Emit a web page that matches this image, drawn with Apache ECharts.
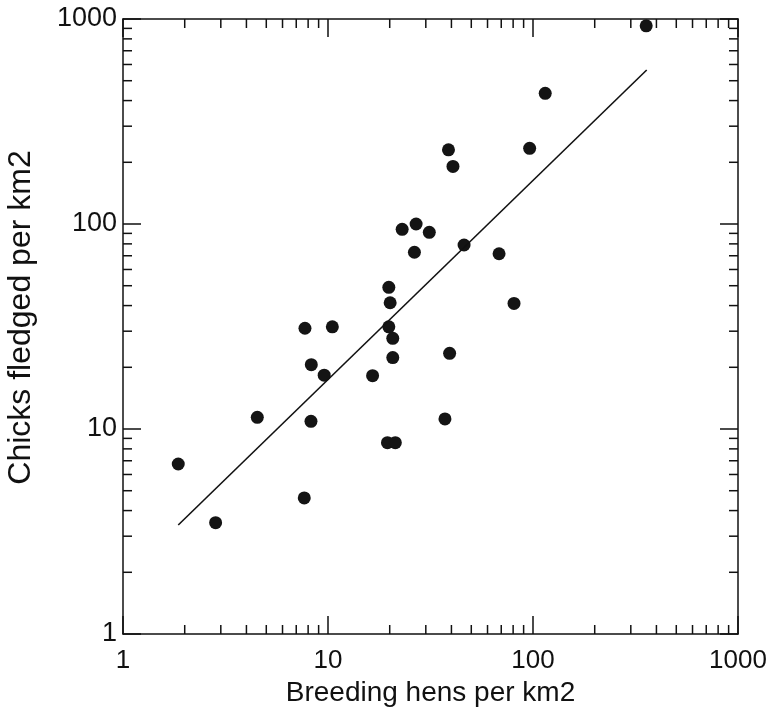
<!DOCTYPE html>
<html>
<head>
<meta charset="utf-8">
<script src="https://cdn.jsdelivr.net/npm/echarts@6/dist/echarts.min.js"></script>
<style>
  html, body { margin: 0; padding: 0; background: #fff; }
  #chart { width: 776px; height: 714px; }
</style>
</head>
<body>
<div id="chart"></div>
<script>
// Breeding hens per km2 (x) and chicks fledged per km2 (y)
const hens = [1.86, 2.83, 4.52, 7.66, 7.72, 8.26, 8.29, 9.58, 10.5, 16.5,
              19.5, 21.3, 19.8, 20.7, 20.7, 19.8, 20.1, 23.0, 26.9, 31.2,
              26.4, 37.2, 39.2, 38.7, 40.7, 46.1, 68.3, 80.8, 96.3, 114.7, 356.6];
const chicks = [6.75, 3.49, 11.4, 4.61, 31.0, 10.9, 20.6, 18.3, 31.5, 18.2,
                8.58, 8.58, 31.5, 27.7, 22.3, 49.1, 41.3, 94.2, 100, 91.1,
                72.8, 11.2, 23.4, 230, 191, 79.0, 71.6, 41.0, 234, 434, 926];
// fitted regression line end points
const fitX = [1.86, 358.6];
const fitY = [3.40, 564];
// axis tick labels and minor tick values
const majorTicks = [1, 10, 100, 1000];
const minorTicks = [2, 3, 4, 5, 6, 7, 8, 9, 20, 30, 40, 50, 60, 70, 80, 90,
                    200, 300, 400, 500, 600, 700, 800, 900];

const FONT = 'Liberation Sans, Arial, sans-serif';
const INK = '#111';

const chart = echarts.init(document.getElementById('chart'), null, { renderer: 'canvas' });

const baseAxis = {
  type: 'log', logBase: 10, min: majorTicks[0], max: majorTicks[majorTicks.length - 1],
  splitLine: { show: false },
  axisLine: { show: true, onZero: false, lineStyle: { color: INK, width: 1.5 } },
  axisTick: { show: true, inside: true, length: 18, lineStyle: { color: INK, width: 1.5 } },
  minorTick: { show: false }
};

chart.setOption({
  backgroundColor: '#fff',
  animation: false,
  grid: { left: 123, top: 19, width: 615, height: 615, containLabel: false, outerBoundsMode: 'none' },
  xAxis: [
    Object.assign({}, baseAxis, {
      position: 'bottom',
      name: 'Breeding hens per km2', nameLocation: 'middle', nameGap: 44,
      nameTextStyle: { fontFamily: FONT, fontSize: 28, color: INK },
      axisLabel: { show: true, margin: 14, fontFamily: FONT, fontSize: 26, color: INK,
        formatter: v => String(Math.round(v)) }
    }),
    Object.assign({}, baseAxis, { position: 'top', axisLabel: { show: false } })
  ],
  yAxis: [
    Object.assign({}, baseAxis, {
      position: 'left',
      name: 'Chicks fledged per km2', nameLocation: 'middle', nameGap: 86,
      nameTextStyle: { fontFamily: FONT, fontSize: 32, color: INK, padding: [0, 0, 0, 18] },
      axisLabel: { show: true, margin: 6, fontFamily: FONT, fontSize: 27, color: INK,
        formatter: v => String(Math.round(v)) }
    }),
    Object.assign({}, baseAxis, { position: 'right', axisLabel: { show: false } })
  ],
  series: [
    {
      type: 'custom',
      silent: true,
      xAxisIndex: 0, yAxisIndex: 0,
      clip: false,
      data: minorTicks.map(v => [v, v]),
      renderItem: function (params, api) {
        const cs = params.coordSys;
        const p = api.coord([api.value(0), api.value(1)]);
        const L = 9;
        const st = { stroke: INK, lineWidth: 1.5 };
        const left = cs.x, right = cs.x + cs.width, top = cs.y, bottom = cs.y + cs.height;
        return {
          type: 'group',
          children: [
            { type: 'line', shape: { x1: p[0], y1: bottom, x2: p[0], y2: bottom - L }, style: st },
            { type: 'line', shape: { x1: p[0], y1: top, x2: p[0], y2: top + L }, style: st },
            { type: 'line', shape: { x1: left, y1: p[1], x2: left + L, y2: p[1] }, style: st },
            { type: 'line', shape: { x1: right, y1: p[1], x2: right - L, y2: p[1] }, style: st }
          ]
        };
      }
    },
    {
      type: 'line',
      data: fitX.map((x, i) => [x, fitY[i]]),
      showSymbol: false, symbol: 'none',
      lineStyle: { color: INK, width: 1.6 },
      silent: true
    },
    {
      type: 'scatter',
      data: hens.map((x, i) => [x, chicks[i]]),
      symbol: 'circle', symbolSize: 13,
      itemStyle: { color: '#141414', opacity: 1 },
      silent: true
    }
  ]
});
</script>
</body>
</html>
